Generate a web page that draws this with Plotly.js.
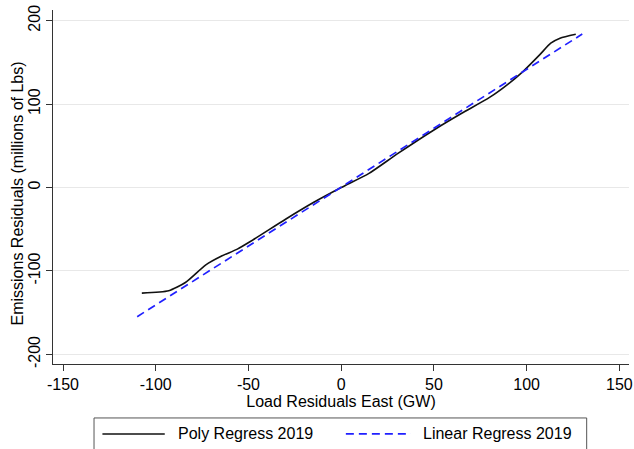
<!DOCTYPE html>
<html>
<head>
<meta charset="utf-8">
<script src="https://cdn.plot.ly/plotly-3.0.1.min.js"></script>
<style>
  html, body { margin: 0; padding: 0; background: #fff; }
  #chart { width: 634px; height: 449px; }
</style>
</head>
<body>
<div id="chart"></div>
<script>
// Poly regression curve
const polyX = [-107.5, -93, -84, -73, -65, -56, -49, -30, -15, 0, 15, 30, 50, 65, 80, 90, 98, 107, 113, 118, 126.5];
const polyY = [-126.5, -123.7, -113.8, -92.6, -82.6, -73.8, -64.7, -38, -18, 0, 17, 40, 69, 89, 108, 124, 139, 159, 173, 179, 183.7];

// Linear regression line endpoints
const linX = [-110, 130];
const linY = [-154.8, 184];

const seriesNames = ['Poly Regress 2019', 'Linear Regress 2019'];
const xTicks = [-150, -100, -50, 0, 50, 100, 150];
const yTicks = [-200, -100, 0, 100, 200];
const xTitle = 'Load Residuals East (GW)';
const yTitle = 'Emissions Residuals (millions of Lbs)';

const W = 634, H = 449;
const M = { l: 53.3, r: 5, t: 10, b: 84.7 };
const plotW = W - M.l - M.r, plotH = H - M.t - M.b;
const px = v => (v - M.l) / plotW;          // pixel x -> paper x
const py = v => (H - M.b - v) / plotH;      // pixel y -> paper y

const FONT = 'Liberation Sans, Arial, Helvetica, sans-serif';
const blue = '#2020ff';

const traces = [
  { x: polyX, y: polyY, type: 'scatter', mode: 'lines', name: seriesNames[0],
    line: { color: '#111', width: 1.6, shape: 'spline', smoothing: 0.6 }, showlegend: false },
  { x: linX, y: linY, type: 'scatter', mode: 'lines', name: seriesNames[1],
    line: { color: blue, width: 1.7, dash: '8px,5px' }, showlegend: false }
];

const legY = 434.3;
const layout = {
  width: W, height: H,
  margin: M,
  paper_bgcolor: '#fff', plot_bgcolor: '#fff',
  font: { family: FONT, size: 16, color: '#000' },
  showlegend: false,
  xaxis: {
    range: [-155.4, 155.2],
    tickvals: xTicks, ticktext: xTicks.map(String),
    ticks: 'outside', ticklen: 6, tickcolor: '#333', tickwidth: 1,
    showline: true, linecolor: '#333', linewidth: 1,
    showgrid: false, zeroline: false,
    tickfont: { size: 16 },
    title: { text: xTitle, font: { size: 16 }, standoff: 3 }
  },
  yaxis: {
    range: [-211.5, 212.8],
    tickvals: yTicks, ticktext: yTicks.map(String),
    tickangle: -90,
    ticks: 'outside', ticklen: 6, tickcolor: '#333', tickwidth: 1,
    showline: true, linecolor: '#333', linewidth: 1,
    showgrid: true, gridcolor: '#e8e8e8', gridwidth: 1,
    zeroline: false,
    tickfont: { size: 16 }
  },
  shapes: [
    { type: 'rect', xref: 'paper', yref: 'paper',
      x0: px(94.3), x1: px(586.7), y0: py(470), y1: py(418.3),
      line: { color: '#555', width: 1 }, fillcolor: 'rgba(0,0,0,0)' },
    { type: 'line', xref: 'paper', yref: 'paper',
      x0: px(102.7), x1: px(165), y0: py(legY), y1: py(legY),
      line: { color: '#111', width: 1.6 } },
    { type: 'line', xref: 'paper', yref: 'paper',
      x0: px(346), x1: px(411), y0: py(legY), y1: py(legY),
      line: { color: blue, width: 1.7, dash: '8px,5px' } }
  ],
  annotations: [
    { xref: 'paper', yref: 'paper', x: px(18), y: py(194), xanchor: 'center', yanchor: 'middle',
      text: yTitle, textangle: -90, showarrow: false, font: { size: 16 } },
    { xref: 'paper', yref: 'paper', x: px(176), y: py(legY), xanchor: 'left', yanchor: 'middle',
      text: seriesNames[0], showarrow: false, font: { size: 16 } },
    { xref: 'paper', yref: 'paper', x: px(421), y: py(legY), xanchor: 'left', yanchor: 'middle',
      text: seriesNames[1], showarrow: false, font: { size: 16 } }
  ]
};

Plotly.newPlot('chart', traces, layout, { displayModeBar: false, staticPlot: true });
</script>
</body>
</html>
